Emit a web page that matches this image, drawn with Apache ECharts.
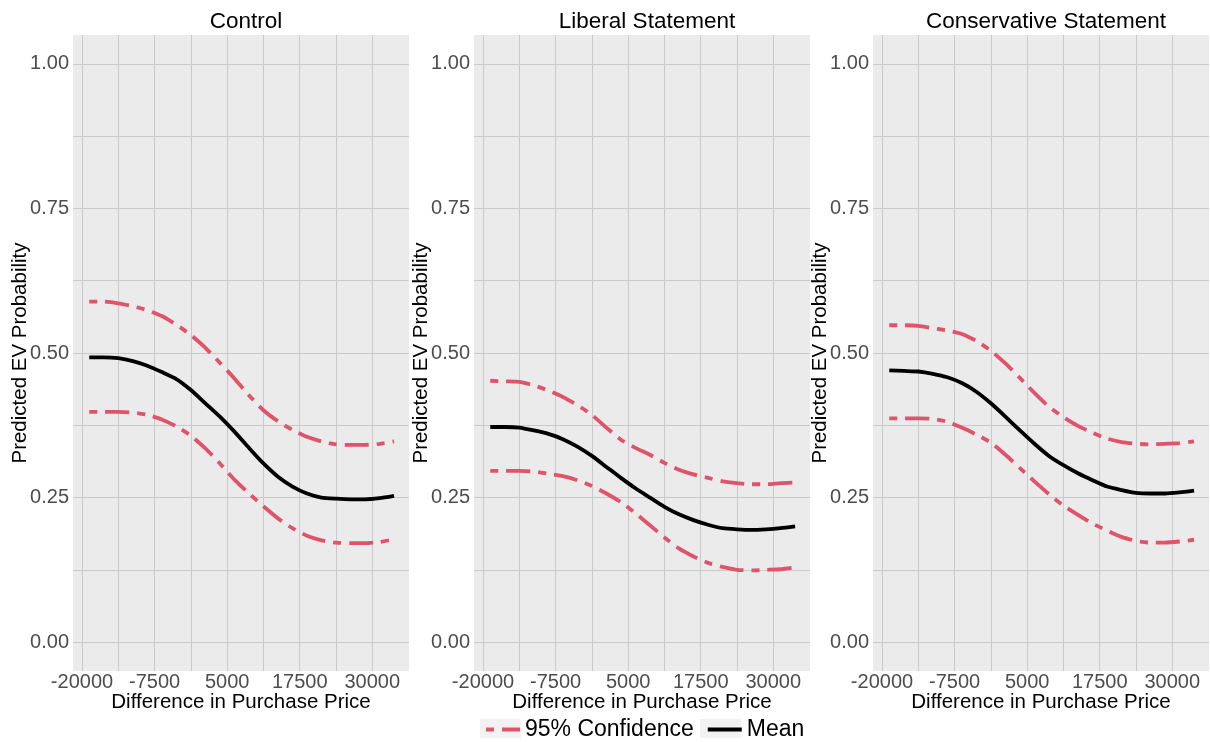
<!DOCTYPE html>
<html>
<head>
<meta charset="utf-8">
<script src="https://cdn.jsdelivr.net/npm/echarts@6/dist/echarts.min.js"></script>
<style>
html, body { margin: 0; padding: 0; background: #ffffff; }
#chart { width: 1210px; height: 742px; }
</style>
</head>
<body>
<div id="chart"></div>
<script>
// ---- data ----
const panelTitles = ['Control', 'Liberal Statement', 'Conservative Statement'];
const xValues = [-18750, -16250, -13750, -11250, -8750, -6250, -3750, -1250, 1250, 3750, 6250,
                 8750, 11250, 13750, 16250, 18750, 21250, 23750, 26250, 28750, 31250, 33750];

const controlUpper = [0.589, 0.589, 0.586, 0.581, 0.574, 0.564, 0.549, 0.531, 0.509, 0.483, 0.456,
                      0.427, 0.401, 0.382, 0.367, 0.355, 0.347, 0.342, 0.341, 0.341, 0.343, 0.347];
const controlMean  = [0.4925, 0.4925, 0.491, 0.486, 0.478, 0.467, 0.455, 0.436, 0.413, 0.390, 0.364,
                      0.336, 0.309, 0.286, 0.269, 0.257, 0.250, 0.248, 0.247, 0.247, 0.249, 0.253];
const controlLower = [0.398, 0.398, 0.398, 0.397, 0.393, 0.385, 0.373, 0.357, 0.335, 0.309, 0.281,
                      0.257, 0.235, 0.214, 0.197, 0.184, 0.176, 0.172, 0.171, 0.171, 0.173, 0.178];

const liberalUpper = [0.452, 0.451, 0.450, 0.444, 0.435, 0.424, 0.410, 0.393, 0.371, 0.350, 0.336,
                      0.324, 0.310, 0.298, 0.290, 0.284, 0.278, 0.275, 0.273, 0.273, 0.275, 0.276];
const liberalMean  = [0.372, 0.372, 0.371, 0.366, 0.360, 0.351, 0.338, 0.322, 0.303, 0.284, 0.266,
                      0.250, 0.234, 0.221, 0.211, 0.203, 0.197, 0.195, 0.194, 0.195, 0.197, 0.200];
const liberalLower = [0.296, 0.296, 0.296, 0.295, 0.291, 0.287, 0.280, 0.270, 0.257, 0.242, 0.223,
                      0.202, 0.181, 0.162, 0.148, 0.137, 0.130, 0.125, 0.124, 0.125, 0.126, 0.129];

const conservativeUpper = [0.548, 0.548, 0.547, 0.543, 0.539, 0.533, 0.521, 0.504, 0.482, 0.457, 0.431,
                           0.407, 0.389, 0.374, 0.362, 0.352, 0.346, 0.343, 0.342, 0.343, 0.344, 0.347];
const conservativeMean  = [0.470, 0.469, 0.468, 0.464, 0.458, 0.448, 0.433, 0.413, 0.390, 0.366, 0.343,
                           0.322, 0.306, 0.292, 0.280, 0.269, 0.263, 0.258, 0.257, 0.257, 0.259, 0.262];
const conservativeLower = [0.387, 0.387, 0.387, 0.386, 0.381, 0.371, 0.359, 0.345, 0.324, 0.301, 0.278,
                           0.256, 0.236, 0.220, 0.205, 0.193, 0.182, 0.175, 0.172, 0.172, 0.174, 0.177];

const xTickLabels = [-20000, -7500, 5000, 17500, 30000];
const xGridValues = [-20000, -13750, -7500, -1250, 5000, 11250, 17500, 23750, 30000];
const yTickLabels = [0, 0.25, 0.5, 0.75, 1];
const yGridValues = [0, 0.125, 0.25, 0.375, 0.5, 0.625, 0.75, 0.875, 1];
const legendNames = ['95% Confidence', 'Mean'];

const seriesByPanel = [
  [controlUpper, controlMean, controlLower],
  [liberalUpper, liberalMean, liberalLower],
  [conservativeUpper, conservativeMean, conservativeLower]
];

// ---- styling / layout ----
const FONT = '"Liberation Sans", Arial, sans-serif';
const RED = '#DF536B';
const gridLefts = [73, 474, 873];
const GRID_W = 336, GRID_TOP = 35, GRID_H = 636;
const DASH = [8, 8, 24, 8];

const grids = [], xAxes = [], yAxes = [], titles = [], series = [];

panelTitles.forEach((t, i) => {
  grids.push({ left: gridLefts[i], top: GRID_TOP, width: GRID_W, height: GRID_H,
               show: true, backgroundColor: '#ebebeb', borderWidth: 0 });
  titles.push({ text: t, left: gridLefts[i] + GRID_W / 2, top: 5, textAlign: 'center',
                textStyle: { fontFamily: FONT, fontSize: 22.5, fontWeight: 'normal', color: '#000' } });
  xAxes.push({
    gridIndex: i, type: 'value', min: -21550, max: 36320,
    name: 'Difference in Purchase Price', nameLocation: 'middle', nameGap: 21, nameMoveOverlap: false,
    nameTextStyle: { fontFamily: FONT, fontSize: 20.5, color: '#000' },
    axisLine: { show: false },
    axisTick: { show: false, customValues: xGridValues },
    axisLabel: { customValues: xTickLabels, margin: 1, fontFamily: FONT, fontSize: 20, color: '#4d4d4d',
                 formatter: v => String(v) },
    splitLine: { show: true, lineStyle: { color: '#c9c9c9', width: 1 } }
  });
  yAxes.push({
    gridIndex: i, type: 'value', min: -0.05, max: 1.05,
    name: 'Predicted EV Probability', nameLocation: 'middle', nameGap: 42, nameMoveOverlap: false,
    nameTextStyle: { fontFamily: FONT, fontSize: 20.5, color: '#000' },
    axisLine: { show: false },
    axisTick: { show: true, length: 2, customValues: yGridValues, lineStyle: { color: '#c9c9c9' } },
    axisLabel: { customValues: yTickLabels, margin: 4, fontFamily: FONT, fontSize: 20, color: '#4d4d4d',
                 formatter: v => v.toFixed(2) },
    splitLine: { show: true, lineStyle: { color: '#c9c9c9', width: 1 } }
  });
  const [up, mean, low] = seriesByPanel[i];
  const mk = (name, vals, color, type) => ({
    name, type: 'line', xAxisIndex: i, yAxisIndex: i,
    data: xValues.map((x, k) => [x, vals[k]]),
    showSymbol: false, symbol: 'none', smooth: 0.2, silent: true,
    itemStyle: { color },
    lineStyle: { color, width: 3.8, type }
  });
  series.push(mk(legendNames[0], up, RED, DASH));
  series.push(mk(legendNames[0], low, RED, DASH));
  series.push(mk(legendNames[1], mean, '#000000', 'solid'));
});

const chart = echarts.init(document.getElementById('chart'), null, { renderer: 'canvas' });
chart.setOption({
  animation: false,
  backgroundColor: '#ffffff',
  title: titles,
  grid: grids,
  xAxis: xAxes,
  yAxis: yAxes,
  legend: {
    data: legendNames,
    left: 484, top: 718, padding: 0, itemWidth: 34, itemHeight: 22, itemGap: 12,
    selectedMode: false, z: 10,
    itemStyle: { opacity: 0, borderWidth: 0 },
    lineStyle: { width: 4 },
    textStyle: { fontFamily: FONT, fontSize: 23, color: '#000' }
  },
  graphic: [
    { type: 'rect', z: 1, silent: true, shape: { x: 480, y: 719, width: 41, height: 19 }, style: { fill: '#f2f2f2' } },
    { type: 'rect', z: 1, silent: true, shape: { x: 700, y: 719, width: 41, height: 19 }, style: { fill: '#f2f2f2' } }
  ],
  series
});
</script>
</body>
</html>
